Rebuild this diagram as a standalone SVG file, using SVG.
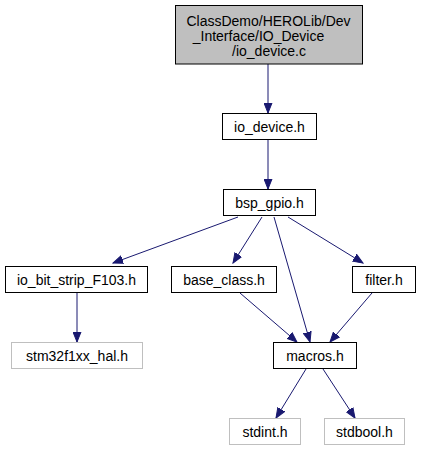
<svg xmlns="http://www.w3.org/2000/svg" width="421" height="451" viewBox="0 0 421 451">
<style>
text{font-family:"Liberation Sans",Arial,sans-serif;font-size:14px;fill:#000;text-anchor:middle}
.n{fill:#fff;stroke:#000;stroke-width:1}
.g{fill:#fff;stroke:#bfbfbf;stroke-width:1}
.t{fill:#bfbfbf;stroke:#000;stroke-width:1}
.e{fill:none;stroke:#191970;stroke-width:1;marker-end:url(#a)}
</style>
<defs>
<marker id="a" markerUnits="userSpaceOnUse" markerWidth="11" markerHeight="9" refX="10" refY="4.5" orient="auto">
<path d="M0,0.5 L10,4.5 L0,8.5 z" fill="#191970" stroke="#191970"/>
</marker>
</defs>
<g id="edges">
<path class="e" d="M268,64 L268,113"/>
<path class="e" d="M268,140 L268,189"/>
<path class="e" d="M238,217 L113,263"/>
<path class="e" d="M262,217 L233,263"/>
<path class="e" d="M274,217 L310,342"/>
<path class="e" d="M288,217 L363,263"/>
<path class="e" d="M240,293 L297,342"/>
<path class="e" d="M372,293 L330,342"/>
<path class="e" d="M77,293 L77,342"/>
<path class="e" d="M306,369 L276,418"/>
<path class="e" d="M323,369 L355,418"/>
</g>
<g id="node_top"><rect class="t" x="175.5" y="5.5" width="187" height="58.5"/>
<text x="268.5" y="26">ClassDemo/HEROLib/Dev</text>
<text x="258.5" y="41">_Interface/IO_Device</text>
<text x="269" y="56">/io_device.c</text></g>
<g id="node_io_device_h"><rect class="n" x="222.5" y="113.5" width="94" height="26"/><text x="269.5" y="131.5">io_device.h</text></g>
<g id="node_bsp_gpio_h"><rect class="n" x="223.5" y="189.5" width="92" height="26"/><text x="269.5" y="207.5">bsp_gpio.h</text></g>
<g id="node_io_bit_strip"><rect class="n" x="5.5" y="266.5" width="142" height="26"/><text x="76.5" y="284.5">io_bit_strip_F103.h</text></g>
<g id="node_base_class_h"><rect class="n" x="171.5" y="266.5" width="105" height="26"/><text x="224" y="284.5">base_class.h</text></g>
<g id="node_filter_h"><rect class="n" x="352.5" y="266.5" width="63" height="26"/><text x="384" y="284.5">filter.h</text></g>
<g id="node_stm32"><rect class="g" x="11.5" y="342.5" width="131" height="26"/><text x="77" y="360.5">stm32f1xx_hal.h</text></g>
<g id="node_macros_h"><rect class="n" x="273.5" y="342.5" width="83" height="26"/><text x="315" y="360.5">macros.h</text></g>
<g id="node_stdint_h"><rect class="g" x="229.5" y="418.5" width="71" height="26"/><text x="265" y="436.5">stdint.h</text></g>
<g id="node_stdbool_h"><rect class="g" x="324.5" y="418.5" width="80" height="26"/><text x="364.5" y="436.5">stdbool.h</text></g>
</svg>
